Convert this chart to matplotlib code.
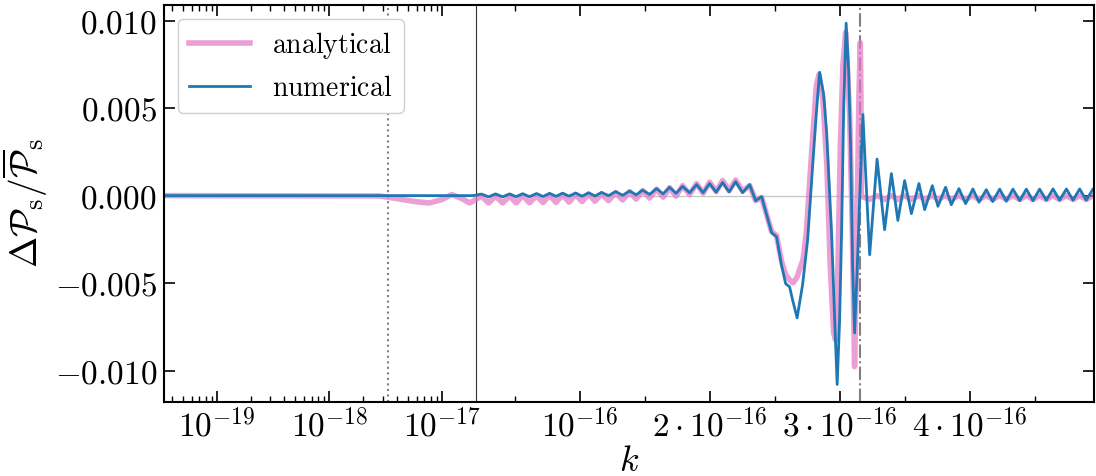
import numpy as np
import matplotlib
matplotlib.use("Agg")
import matplotlib.pyplot as plt
from matplotlib.ticker import FixedLocator, FixedFormatter

plt.rcParams['mathtext.fontset'] = 'cm'
plt.rcParams['font.family'] = 'serif'
plt.rcParams['font.size'] = 16

## data (k in the log part, k/1e-16 in the linear part)
#-------------------------------------------------------------------------------
ana_k_log = [3e-20, 2.8e-18, 4.2e-18, 5.75e-18, 7.8e-18, 1e-17, 1.23e-17, 1.51e-17, 1.77e-17]
ana_log = [0.0, -0.00002, -0.00019, -0.00034, -0.00042, -0.00023, 0.00006, -0.00017, -0.00042]

ana_k_lin = [0.246, 0.3, 0.354, 0.408, 0.462, 0.512, 0.562, 0.615, 0.669, 0.719,
             0.769, 0.819, 0.869, 0.919, 0.969, 1.019, 1.069, 1.119, 1.169, 1.223,
             1.277, 1.331, 1.385, 1.435, 1.485, 1.538, 1.592, 1.642, 1.692, 1.742,
             1.792, 1.846, 1.9, 1.95, 2.0, 2.05, 2.1, 2.15, 2.2, 2.254,
             2.308, 2.354, 2.4, 2.477, 2.515, 2.554, 2.585, 2.615, 2.641, 2.67,
             2.718, 2.744, 2.769, 2.795, 2.821, 2.841, 2.871, 2.902, 2.928, 2.954,
             2.969, 2.987, 3.005, 3.025, 3.046, 3.077, 3.098, 3.115, 3.133, 3.148,
             3.159, 3.164, 3.167, 3.231, 3.288, 3.346, 3.398, 3.448, 3.5, 3.552,
             3.61, 3.654, 3.713, 3.756, 3.815, 3.859, 3.918, 3.969, 4.025, 4.072,
             4.128, 4.177, 4.231, 4.282, 4.333, 4.385, 4.436, 4.487, 4.538, 4.59,
             4.641, 4.692, 4.744, 4.795, 4.846, 4.897, 4.949, 5.0]
ana_lin = [-0.00003, -0.00042, -0.00002, -0.00042, -0.00002, -0.00042, 0.0, -0.00041, 0.0, -0.0004,
           0.00002, -0.00039, 0.00004, -0.00037, 0.00006, -0.00034, 0.00009, -0.00032, 0.00011, -0.00029,
           0.00017, -0.00025, 0.00023, -0.0002, 0.00029, -0.00014, 0.00037, -0.00009, 0.00046, -0.00003,
           0.00057, 0.00006, 0.00069, 0.00014, 0.00077, 0.00023, 0.00086, 0.00029, 0.00089, 0.00026,
           0.00057, -0.00029, -0.00011, -0.00206, -0.00229, -0.00378, -0.00453, -0.00481, -0.00499, -0.0047,
           -0.00367, -0.00212, 0.00074, 0.00361, 0.00626, 0.00693, 0.0055, 0.00168, -0.00405, -0.00785,
           -0.00825, -0.00405, 0.00264, 0.00741, 0.00934, 0.00454, -0.00214, -0.00978, -0.00214, 0.0055,
           0.00875, 0.0055, -0.00004, -0.00022, 0.0, -0.00022, 0.0, -0.00022, 0.0, -0.00022,
           0.0, -0.00022, 0.0, -0.00022, 0.0, -0.00022, 0.0, -0.00022, 0.0, -0.00022,
           0.0, -0.00022, 0.0, -0.00022, 0.0, -0.00022, 0.0, -0.00022, 0.0, -0.00022,
           0.0, -0.00022, 0.0, -0.00022, 0.0, -0.00022, 0.0, -0.00022]

num_k_log = [3e-20, 1.9e-17]
num_log = [0.0, 0.0]

num_k_lin = [0.246, 0.3, 0.354, 0.408, 0.462, 0.512, 0.562, 0.615, 0.669, 0.719,
             0.769, 0.819, 0.869, 0.919, 0.969, 1.019, 1.069, 1.119, 1.169, 1.223,
             1.277, 1.331, 1.385, 1.435, 1.485, 1.538, 1.592, 1.642, 1.692, 1.742,
             1.792, 1.846, 1.9, 1.95, 2.0, 2.05, 2.1, 2.15, 2.2, 2.254,
             2.308, 2.354, 2.4, 2.477, 2.515, 2.554, 2.585, 2.615, 2.638, 2.673,
             2.715, 2.754, 2.792, 2.823, 2.846, 2.877, 2.9, 2.938, 2.962, 2.981,
             3.0, 3.015, 3.031, 3.05, 3.069, 3.085, 3.1, 3.115, 3.135, 3.154,
             3.179, 3.205, 3.231, 3.288, 3.346, 3.398, 3.448, 3.5, 3.552, 3.61,
             3.654, 3.713, 3.756, 3.815, 3.859, 3.918, 3.969, 4.025, 4.072, 4.128,
             4.177, 4.231, 4.282, 4.333, 4.385, 4.436, 4.487, 4.538, 4.59, 4.641,
             4.692, 4.744, 4.795, 4.846, 4.897, 4.949, 5.0]
num_lin = [0.00009, -0.00007, 0.0001, -0.00007, 0.0001, -0.00006, 0.00011, -0.00006, 0.00012, -0.00005,
           0.00013, -0.00004, 0.00014, -0.00003, 0.00015, -0.00003, 0.00016, -0.00002, 0.00018, 0.0,
           0.00023, 0.00002, 0.00026, 0.00005, 0.00031, 0.00007, 0.0004, 0.0001, 0.00047, 0.00013,
           0.00053, 0.00016, 0.00063, 0.00017, 0.00069, 0.0002, 0.00075, 0.00021, 0.0008, 0.00017,
           0.00063, -0.00029, -0.00006, -0.00212, -0.00235, -0.00401, -0.00504, -0.00521, -0.00596, -0.00699,
           -0.0051, -0.00252, 0.00166, 0.00493, 0.00705, 0.00579, 0.00361, -0.00212, -0.0071, -0.0108,
           -0.0071, -0.00212, 0.00493, 0.00986, 0.00722, 0.00264, -0.00407, -0.00785, -0.00424, -0.00023,
           0.00464, 0.00052, -0.00338, 0.00209, -0.00195, 0.00126, -0.00142, 0.00086, -0.00103, 0.00069,
           -0.0008, 0.00057, -0.00061, 0.00048, -0.00052, 0.0004, -0.00046, 0.00038, -0.00038, 0.00034,
           -0.00034, 0.00037, -0.00032, 0.00037, -0.00029, 0.00037, -0.00029, 0.00037, -0.00026, 0.00038,
           -0.00026, 0.00038, -0.00026, 0.00038, -0.00026, 0.00038, -0.00026]

k_dotted = 3.3e-18
k_break = 2e-17
k_dashdot = 3.16e-16

#-------------------------------------------------------------------------------
# x axis: log below k_break, linear above
S = (130/112.5)/1e-16
L0 = np.log10(k_break)

def fwd(k):
    k = np.asarray(k, dtype=float)
    with np.errstate(all='ignore'):
        lg = np.log10(np.where(k > 0, k, 1e-300))
    return np.where(k < k_break, lg, L0 + (k - k_break)*S)

def inv(y):
    y = np.asarray(y, dtype=float)
    with np.errstate(all='ignore'):
        ex = np.power(10.0, np.minimum(y, 300))
    return np.where(y < L0, ex, k_break + (y - L0)/S)

ana_k = np.concatenate([ana_k_log, np.array(ana_k_lin)*1e-16])
ana = np.concatenate([ana_log, ana_lin])
num_k = np.concatenate([num_k_log, np.array(num_k_lin)*1e-16])
num = np.concatenate([num_log, num_lin])

fig = plt.figure(figsize=(10.96, 4.76), dpi=100)
ax = fig.add_axes([0.1496, 0.1555, 0.849, 0.834])
ax.set_xscale('function', functions=(fwd, inv))

ax.axhline(0, color='#c8c8c8', lw=1, zorder=0)
ax.axvline(k_dotted, color='grey', ls=':', lw=1.5)
ax.axvline(k_break, color='#333333', lw=0.8)
ax.axvline(k_dashdot, color='grey', ls='-.', lw=1.5)

ax.plot(ana_k, ana, color='tab:pink', alpha=0.7, lw=4, label=r'$\mathrm{analytical}$')
ax.plot(num_k, num, color='tab:blue', lw=2, label=r'$\mathrm{numerical}$')

ax.set_xlim(3.4e-20, 4.96e-16)
ax.set_ylim(-0.0118, 0.0109)

major = [1e-19, 1e-18, 1e-17, 1e-16, 2e-16, 3e-16, 4e-16]
major_lab = [r'$10^{-19}$', r'$10^{-18}$', r'$10^{-17}$', r'$10^{-16}$',
             r'$2\cdot10^{-16}$', r'$3\cdot10^{-16}$', r'$4\cdot10^{-16}$']
minor = [m*10.0**e for e in (-20, -19, -18) for m in range(2, 10)]
minor += [0.5e-16, 1.5e-16, 2.5e-16, 3.5e-16, 4.5e-16]
ax.xaxis.set_major_locator(FixedLocator(major))
ax.xaxis.set_major_formatter(FixedFormatter(major_lab))
ax.xaxis.set_minor_locator(FixedLocator(minor))
ax.xaxis.set_minor_formatter(FixedFormatter([]))

yt = [-0.01, -0.005, 0.0, 0.005, 0.01]
ax.yaxis.set_major_locator(FixedLocator(yt))
ax.yaxis.set_major_formatter(FixedFormatter([r'$-0.010$', r'$-0.005$', r'$0.000$', r'$0.005$', r'$0.010$']))
ax.yaxis.set_minor_locator(FixedLocator([]))

ax.tick_params(which='both', direction='in', top=True, right=True, labelsize=24)
ax.tick_params(which='major', length=8, width=1.2, pad=5)
ax.tick_params(which='minor', length=4, width=1)
for s in ax.spines.values():
    s.set_linewidth(1.5)

ax.set_xlabel(r'$k$', fontsize=26, labelpad=0)
ax.set_ylabel(r'$\Delta\mathcal{P}_\mathrm{s}/\overline{\mathcal{P}}_\mathrm{s}$', fontsize=27, labelpad=3)

leg = ax.legend(loc='upper left', fontsize=20, handlelength=2.2, framealpha=1,
                edgecolor='#d0d0d0', borderaxespad=0.5)

plt.savefig('out.png', dpi=100)
